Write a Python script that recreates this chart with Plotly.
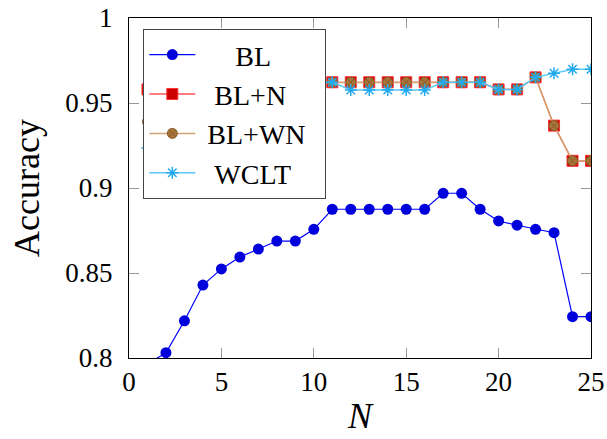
import plotly.graph_objects as go

N = list(range(1, 26))
bl = [0.7965, 0.8031, 0.8219, 0.8429, 0.8524, 0.8594, 0.8641, 0.8688, 0.8688, 0.8757,
      0.8875, 0.8875, 0.8875, 0.8875, 0.8875, 0.8875, 0.8969, 0.8969, 0.8875, 0.8806,
      0.8781, 0.8757, 0.8737, 0.8243, 0.8243]
bl_n = [0.958, 0.962, 0.962, 0.962, 0.962, 0.962, 0.962, 0.962, 0.962, 0.962,
        0.9622, 0.9622, 0.9622, 0.9622, 0.9622, 0.9622, 0.9622, 0.9622, 0.9622, 0.958,
        0.958, 0.9651, 0.9367, 0.916, 0.916]
bl_wn = [0.939, 0.955, 0.960, 0.962, 0.962, 0.962, 0.962, 0.962, 0.962, 0.962,
         0.9622, 0.9622, 0.9622, 0.9622, 0.9622, 0.9622, 0.9622, 0.9622, 0.9622, 0.958,
         0.958, 0.9651, 0.9367, 0.916, 0.916]
wclt = [0.9235, 0.945, 0.955, 0.958, 0.958, 0.958, 0.960, 0.962, 0.962, 0.962,
        0.9622, 0.9576, 0.9576, 0.9576, 0.9576, 0.9576, 0.9622, 0.9622, 0.9622, 0.958,
        0.958, 0.9651, 0.9675, 0.9698, 0.9698]

series_names = ["BL", "BL+N", "BL+WN", "WCLT"]
x_ticks = [0, 5, 10, 15, 20, 25]
y_ticks = [0.8, 0.85, 0.9, 0.95, 1.0]
y_tick_labels = ["0.8", "0.85", "0.9", "0.95", "1"]

FONT = "Liberation Serif"
NB = "\u00a0"
# padding so legend labels look centred, as in the original
lead = [5, 2, 1, 2]
trail = 2
legend_names = [NB * p + s + NB * trail for p, s in zip(lead, series_names)]

fig = go.Figure()
fig.add_trace(go.Scatter(x=N, y=bl, name=legend_names[0], mode="lines+markers",
                         line=dict(color="#0000ff", width=1.2),
                         marker=dict(symbol="circle", size=11, color="#0000dd",
                                     line=dict(width=0))))
fig.add_trace(go.Scatter(x=N, y=bl_n, name=legend_names[1], mode="lines+markers",
                         line=dict(color="#ff0000", width=1.2),
                         marker=dict(symbol="square", size=11, color="#cc0000",
                                     line=dict(color="#ff3030", width=1))))
fig.add_trace(go.Scatter(x=N, y=bl_wn, name=legend_names[2], mode="lines+markers",
                         line=dict(color="#d4a373", width=1.5),
                         marker=dict(symbol="circle-x", size=10, color="#a87438",
                                     line=dict(color="#8a5a2a", width=1))))
fig.add_trace(go.Scatter(x=N, y=wclt, name=legend_names[3], mode="lines+markers",
                         line=dict(color="#5bc8f5", width=1.5),
                         marker=dict(symbol="asterisk-open", size=10, color="#22aaee",
                                     line=dict(color="#22aaee", width=1.5))))

fig.update_layout(
    width=607, height=439,
    margin=dict(l=129, r=16, t=18, b=81),
    paper_bgcolor="white", plot_bgcolor="white",
    font=dict(family=FONT, size=27, color="black"),
    showlegend=True,
    legend=dict(x=0.031, y=0.968, xanchor="left", yanchor="top",
                bgcolor="white", bordercolor="#444444", borderwidth=1,
                font=dict(family=FONT, size=28), itemwidth=46,
                tracegroupgap=0),
)
fig.update_xaxes(range=[0, 25], tickvals=x_ticks, ticktext=[str(v) for v in x_ticks],
                 ticks="inside", ticklen=10, tickcolor="#999999", tickwidth=1,
                 showline=True, linecolor="black", linewidth=1, mirror="ticks",
                 showgrid=False, zeroline=False, automargin=False,
                 tickfont=dict(family=FONT, size=27),
                 title=dict(text="<i>N</i>", font=dict(family=FONT, size=36), standoff=6))
fig.update_yaxes(range=[0.8, 1.0], tickvals=y_ticks, ticktext=y_tick_labels,
                 ticks="inside", ticklen=10, tickcolor="#999999", tickwidth=1,
                 showline=True, linecolor="black", linewidth=1, mirror="ticks",
                 showgrid=False, zeroline=False, automargin=False,
                 tickfont=dict(family=FONT, size=27), ticklabelstandoff=10,
                 title=dict(text="Accuracy", font=dict(family=FONT, size=36), standoff=14))

fig.write_html("out.html")
